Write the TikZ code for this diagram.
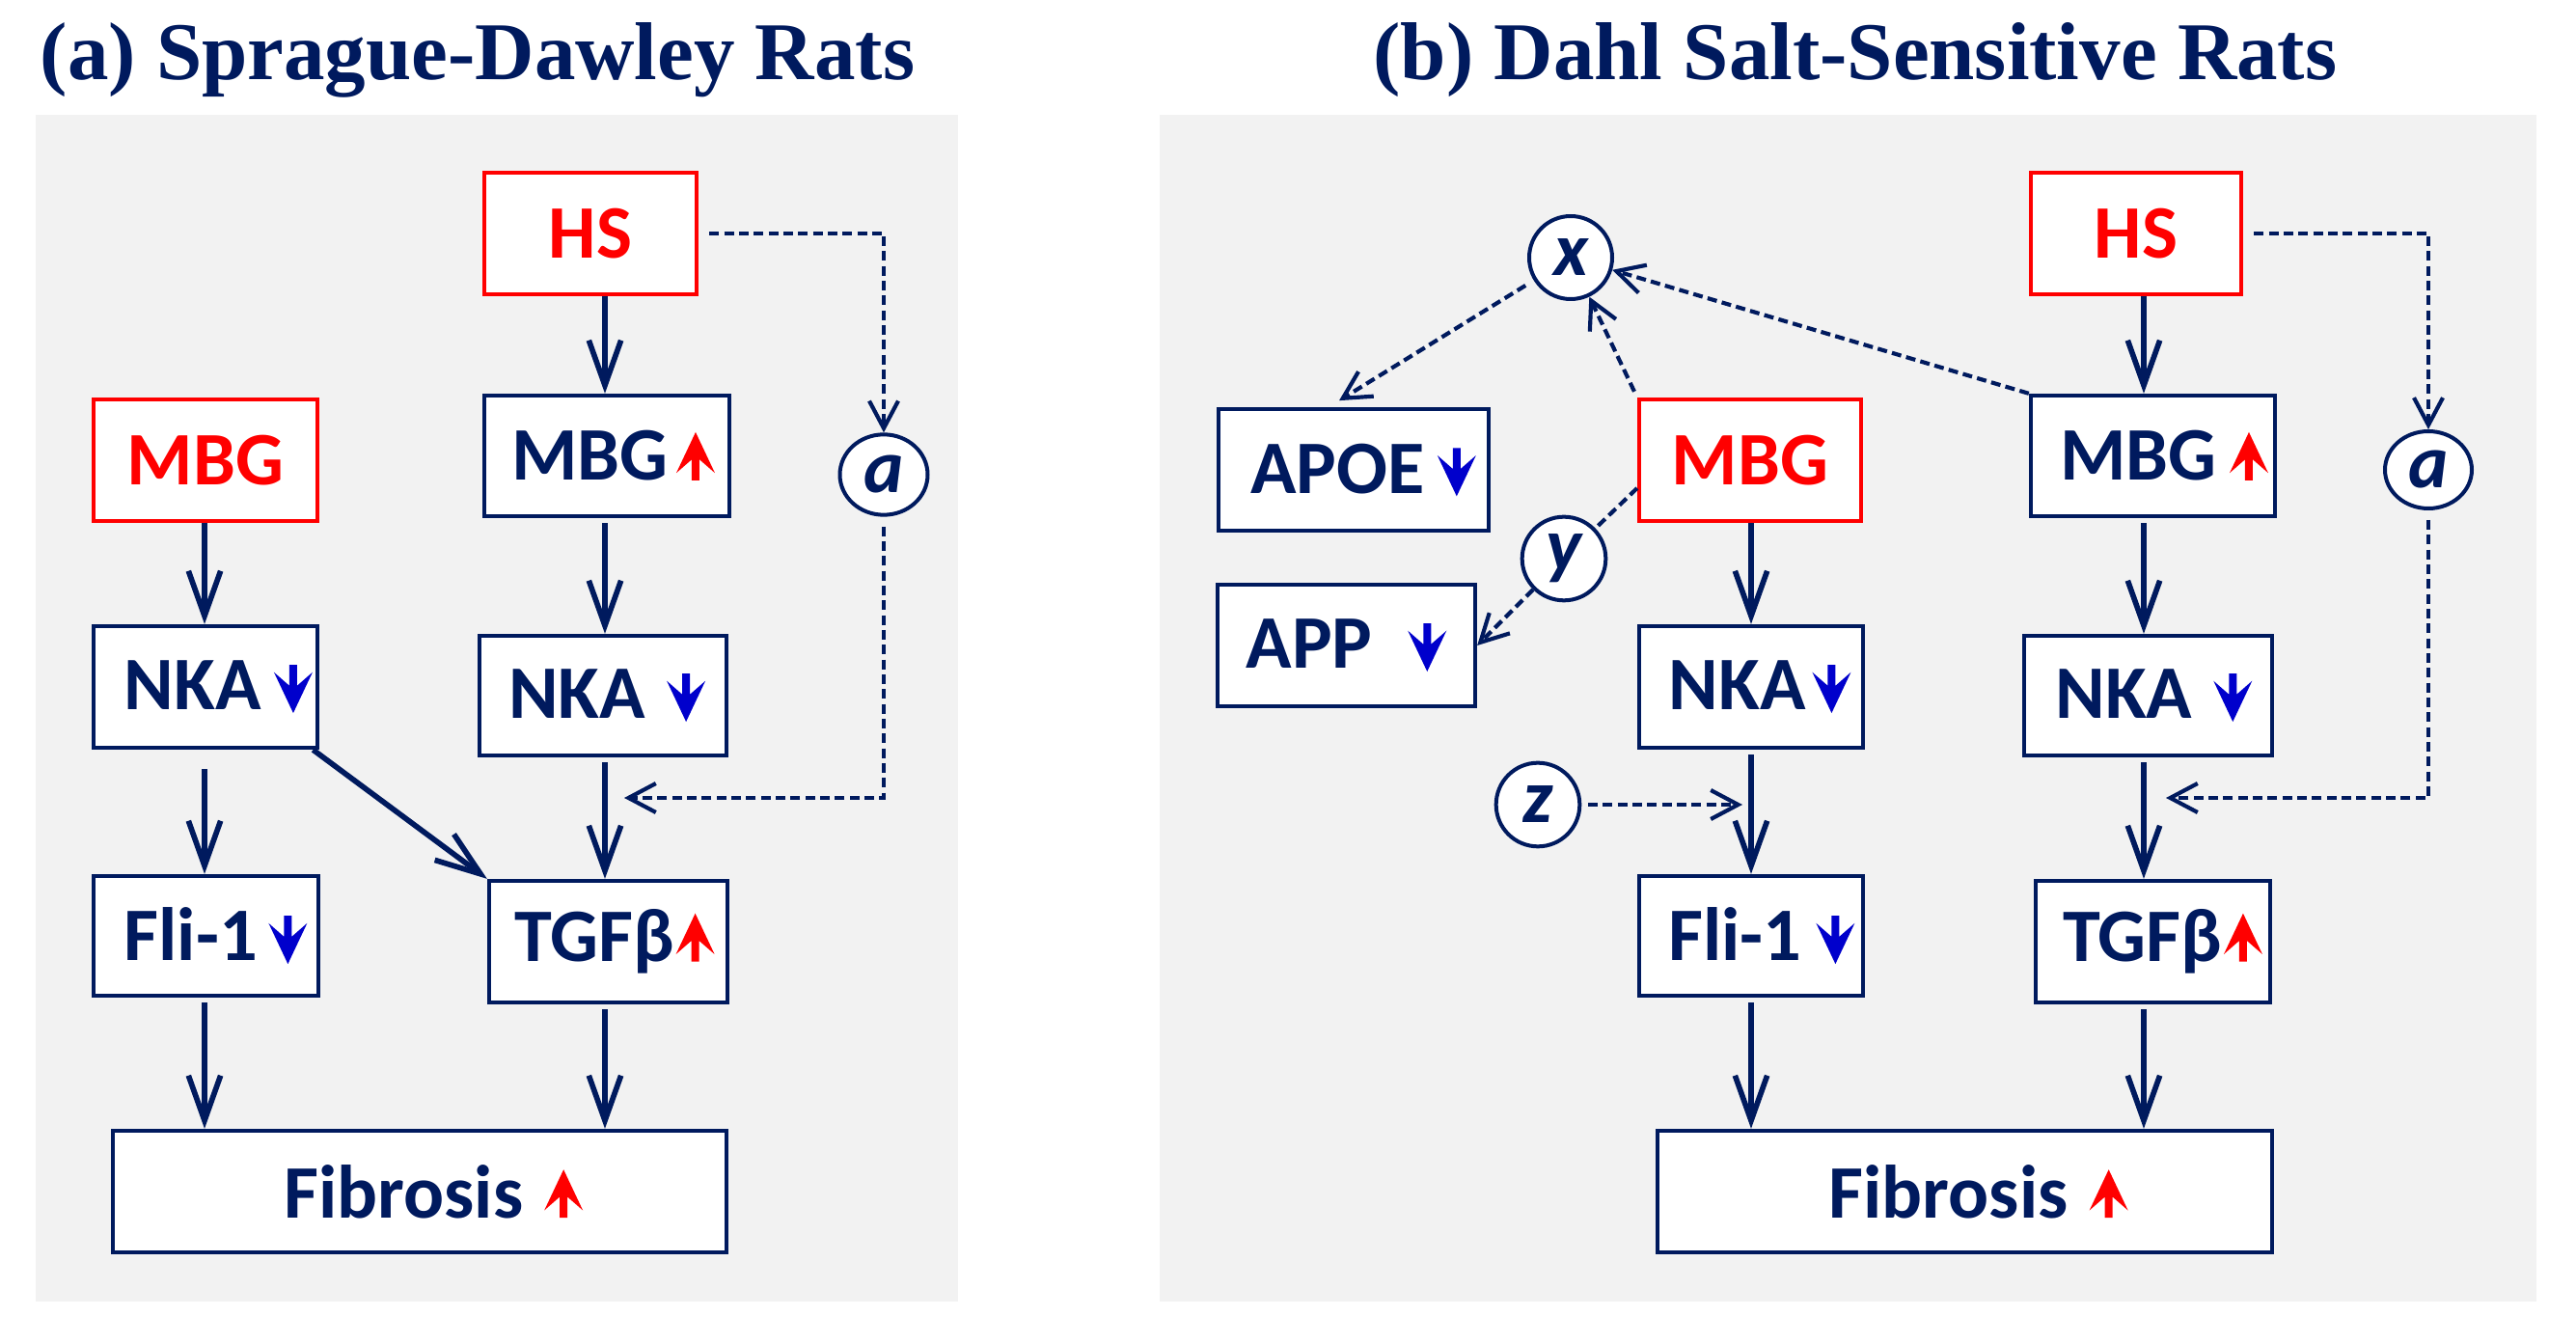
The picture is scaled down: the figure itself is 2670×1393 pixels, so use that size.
\documentclass[tikz,border=0pt]{standalone}
\usepackage{fontspec}
\setmainfont{Liberation Serif}
\newfontfamily\boxfont{Carlito}
\usetikzlibrary{arrows.meta,shapes.geometric,calc}
\definecolor{navy}{RGB}{0,26,94}
\definecolor{bggray}{RGB}{242,242,242}
\definecolor{hired}{RGB}{255,0,0}
\definecolor{lowblue}{RGB}{0,0,204}
\newcommand{\uparr}{\tikz[baseline=0pt]\fill[hired] (0pt,15pt) -- (6pt,2.3pt) -- (1.2pt,6.5pt) -- (1.2pt,0pt) -- (-1.2pt,0pt) -- (-1.2pt,6.5pt) -- (-6pt,2.3pt) -- cycle;}
\newcommand{\dnarr}{\tikz[baseline=0pt]\fill[lowblue] (0pt,-1pt) -- (6pt,11.7pt) -- (1.2pt,7.5pt) -- (1.2pt,14pt) -- (-1.2pt,14pt) -- (-1.2pt,7.5pt) -- (-6pt,11.7pt) -- cycle;}
\tikzset{
 box/.style={draw=navy, line width=1.3pt, fill=white, inner sep=0pt, text=navy,
   font={\boxfont\bfseries\fontsize{23.5pt}{26pt}\selectfont}},
 redbox/.style={box, draw=hired, text=hired},
 circ/.style={ellipse, draw=navy, line width=1.2pt, fill=white, inner sep=0pt, text=navy,
   font={\boxfont\bfseries\itshape\fontsize{23.5pt}{26pt}\selectfont}},
 flow/.style={draw=navy, line width=1.7pt, -{Straight Barb[length=14pt,width=10pt,line width=1.7pt]}},
 dline/.style={draw=navy, line width=1.25pt, dash pattern=on 3pt off 1.6pt},
 dflow/.style={dline, -{Straight Barb[length=8.5pt,width=9pt,line width=1.25pt]}},
 panel/.style={fill=bggray, draw=none},
 ttl/.style={text=navy, font={\bfseries\fontsize{25.5pt}{30pt}\selectfont}, anchor=base, inner sep=0pt}
}
\begin{document}
\begin{tikzpicture}[x=0.3pt,y=-0.3pt]
\fill[white] (0,0) rectangle (2670,1393);
\path[use as bounding box] (0,0) rectangle (2670,1393);
\fill[panel] (37,119) rectangle (993,1349);
\fill[panel] (1202,119) rectangle (2629,1349);

\node[ttl] (tA) at (495,83) {(a) Sprague-Dawley Rats};
\node[ttl] (tB) at (1923,83) {(b) Dahl Salt-Sensitive Rats};

\coordinate (cA) at (627,0);
\coordinate (cA1) at (212,0);
\coordinate (cB) at (2222,0);
\coordinate (cB1) at (1815,0);
\coordinate (tipA) at (647,827);
\coordinate (tipB) at (2245,827);
\coordinate (tipZ) at (1806,834);

% ---------- panel a ----------
\node[redbox, minimum width=66pt, minimum height=37.8pt] (hsA) at (612,242) {HS};
\node[box, minimum width=76.2pt, minimum height=37.5pt] (mbgupA) at (629,472.5) {\hspace{4pt}MBG\hspace{2.5pt}\uparr};
\node[box, minimum width=76.8pt, minimum height=37.2pt] (nkaA2) at (625,721) {\hspace{2.5pt}NKA\hspace{6.6pt}\dnarr};
\node[box, minimum width=74.1pt, minimum height=37.8pt] (tgfA) at (630.5,976) {\hspace{4pt}TGFβ\hspace{0.5pt}\uparr};
\node[box, minimum width=190.8pt, minimum height=37.8pt] (fibA) at (435,1235) {\hspace{8.5pt}Fibrosis\hspace{6.6pt}\uparr};
\node[redbox, minimum width=69.6pt, minimum height=37.8pt] (mbgA) at (213,477) {MBG};
\node[box, minimum width=69.6pt, minimum height=37.8pt] (nkaA1) at (213,712) {\hspace{8pt}NKA\hspace{4pt}\dnarr};
\node[box, minimum width=69.9pt, minimum height=37.2pt] (fliA) at (213.5,970) {\hspace{6pt}Fli-1\hspace{3.5pt}\dnarr};
\node[circ, minimum width=27.3pt, minimum height=25pt] (alphaA) at (916,492) {a};

\draw[flow] (hsA.south -| cA) -- (mbgupA.north -| cA);
\draw[flow, shorten <=1.5pt] (mbgupA.south -| cA) -- (nkaA2.north -| cA);
\draw[flow, shorten <=1.5pt] (nkaA2.south -| cA) -- (tgfA.north -| cA);
\draw[flow, shorten <=1.5pt] (tgfA.south -| cA) -- (fibA.north -| cA);
\draw[flow] (mbgA.south -| cA1) -- (nkaA1.north -| cA1);
\draw[flow, shorten <=6pt] (nkaA1.south -| cA1) -- (fliA.north -| cA1);
\draw[flow, shorten <=1.5pt] (fliA.south -| cA1) -- (fibA.north -| cA1);
\draw[flow] ([xshift=-2pt]nkaA1.south east) -- (tgfA.north west);
\draw[dflow] ([xshift=3.3pt]hsA.east) -| (alphaA.north);
\draw[dflow, shorten <=3pt] (alphaA.south) |- (tipA);

% ---------- panel b ----------
\node[redbox, minimum width=65.4pt, minimum height=37.8pt] (hsB) at (2214,242) {HS};
\node[box, minimum width=75.9pt, minimum height=37.5pt] (mbgupB) at (2231.5,472.5) {\hspace{7pt}MBG\hspace{4pt}\uparr};
\node[box, minimum width=77.1pt, minimum height=37.2pt] (nkaB2) at (2226.5,721) {\hspace{3.5pt}NKA\hspace{6.6pt}\dnarr};
\node[box, minimum width=72.9pt, minimum height=37.8pt] (tgfB) at (2231.5,976) {\hspace{6pt}TGFβ\hspace{0.5pt}\uparr};
\node[box, minimum width=191.1pt, minimum height=37.8pt] (fibB) at (2036.5,1235) {\hspace{8.5pt}Fibrosis\hspace{6.6pt}\uparr};
\node[circ, minimum width=27pt, minimum height=24pt] (alphaB) at (2517,487) {a};
\node[redbox, minimum width=69pt, minimum height=37.8pt] (mbgB) at (1814,477) {MBG};
\node[box, minimum width=69.6pt, minimum height=37.8pt] (nkaB1) at (1815,712) {\hspace{5.5pt}NKA\hspace{2pt}\dnarr};
\node[box, minimum width=69.6pt, minimum height=37.2pt] (fliB) at (1815,970) {\hspace{6.5pt}Fli-1\hspace{4.5pt}\dnarr};
\node[box, minimum width=84pt, minimum height=37.8pt] (apoe) at (1403,487) {\hspace{6pt}APOE\hspace{4pt}\dnarr};
\node[box, minimum width=80.1pt, minimum height=37.8pt] (app) at (1395.5,669) {APP\hspace{11pt}\dnarr};
\node[circ, minimum width=25.8pt, minimum height=25.8pt] (xn) at (1628,267) {x};
\node[circ, minimum width=26pt, minimum height=26pt] (yn) at (1621,579) {y};
\node[circ, minimum width=26pt, minimum height=26pt] (zn) at (1594,834) {z};

\draw[flow] (hsB.south -| cB) -- (mbgupB.north -| cB);
\draw[flow, shorten <=1.5pt] (mbgupB.south -| cB) -- (nkaB2.north -| cB);
\draw[flow, shorten <=1.5pt] (nkaB2.south -| cB) -- (tgfB.north -| cB);
\draw[flow, shorten <=1.5pt] (tgfB.south -| cB) -- (fibB.north -| cB);
\draw[flow] (mbgB.south -| cB1) -- (nkaB1.north -| cB1);
\draw[flow, shorten <=1.5pt] (nkaB1.south -| cB1) -- (fliB.north -| cB1);
\draw[flow, shorten <=1.5pt] (fliB.south -| cB1) -- (fibB.north -| cB1);
\draw[dflow] ([xshift=3.3pt]hsB.east) -| (alphaB.north);
\draw[dflow, shorten <=3pt] (alphaB.south) |- (tipB);
\draw[dflow, shorten <=3pt] (xn) -- ([xshift=-4.5pt,yshift=2pt]apoe.north);
\draw[dflow, shorten <=2pt] (mbgB.north west) -- (xn);
\draw[dflow] (mbgupB.north west) -- (xn);
\draw[dline] ([yshift=-8.7pt]mbgB.west) -- (yn);
\draw[dflow] (yn) -- (app.east);
\draw[dflow, shorten <=2pt] (zn) -- (tipZ);
\end{tikzpicture}
\end{document}
